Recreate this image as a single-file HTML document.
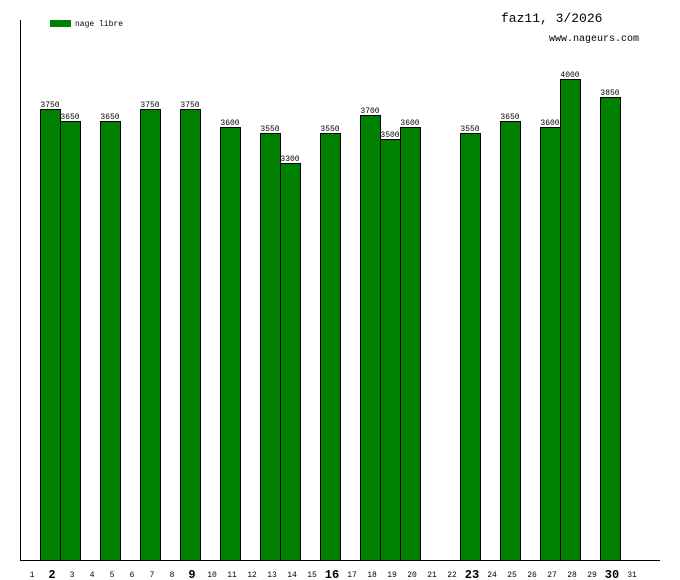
<!DOCTYPE html>
<html><head><style>body{margin:0;background:#fff}svg{display:block}</style></head><body>
<svg width="680" height="580" xmlns="http://www.w3.org/2000/svg" font-family="Liberation Mono, DejaVu Sans Mono, monospace">
<rect width="680" height="580" fill="#fff"/>
<line x1="20.5" y1="20" x2="20.5" y2="560" stroke="#000"/>
<line x1="20" y1="560.5" x2="660" y2="560.5" stroke="#000"/>
<rect x="50" y="20" width="21" height="7" fill="#008000"/>
<text x="75" y="26" font-size="8">nage libre</text>
<text x="501" y="22" font-size="13">faz11, 3/2026</text>
<text x="549" y="41" font-size="10">www.nageurs.com</text>
<g id="bars" fill="#008000" stroke="#000" stroke-width="1"></g>
<g id="vals" font-size="8" text-anchor="middle"></g>
<g id="days" text-anchor="middle"></g>
<script>
var d={2:3750,3:3650,5:3650,7:3750,9:3750,11:3600,13:3550,14:3300,16:3550,18:3700,19:3500,20:3600,23:3550,25:3650,27:3600,28:4000,30:3850};
var ns="http://www.w3.org/2000/svg",b=document.getElementById('bars'),v=document.getElementById('vals'),dy=document.getElementById('days');
for(var k in d){var val=d[k],t=Math.round(559-val*0.12),x=20*k;
var r=document.createElementNS(ns,'rect');r.setAttribute('x',x+0.5);r.setAttribute('y',t+0.5);r.setAttribute('width',20);r.setAttribute('height',560-t);b.appendChild(r);
var tx=document.createElementNS(ns,'text');tx.setAttribute('x',x+10);tx.setAttribute('y',t-2);tx.textContent=val;v.appendChild(tx);}
for(var i=1;i<=31;i++){var tx=document.createElementNS(ns,'text');var big=(i%7==2);tx.setAttribute('x',20*i+12);tx.setAttribute('y',big?578:577);tx.setAttribute('font-size',big?12:8);if(big)tx.setAttribute('font-weight','bold');tx.textContent=i;dy.appendChild(tx);}
</script>
</svg>
</body></html>
